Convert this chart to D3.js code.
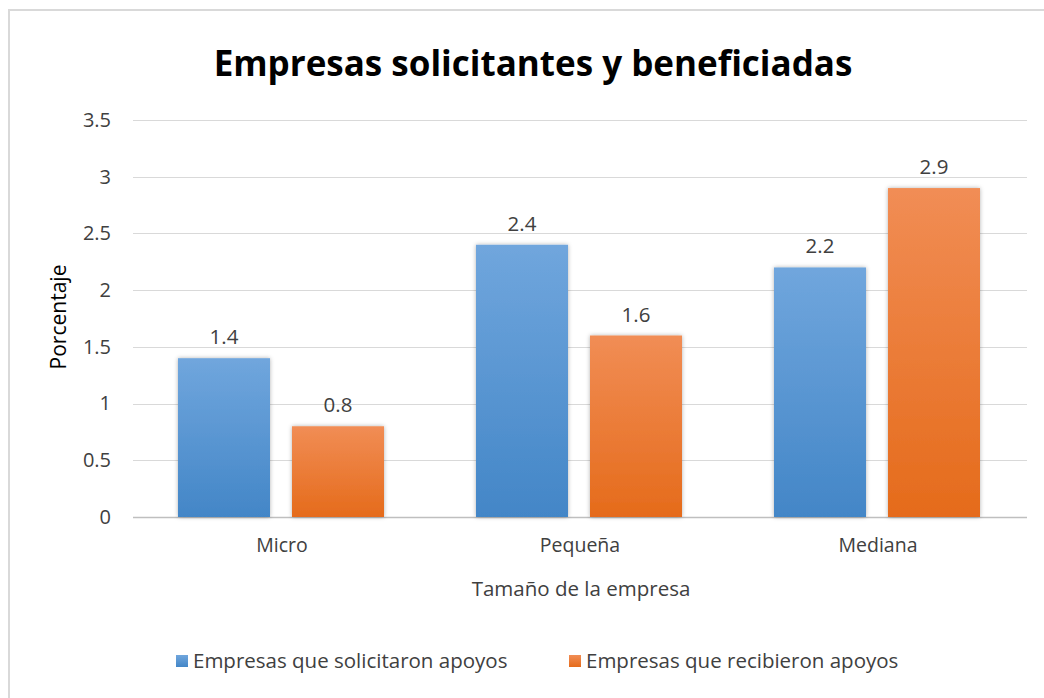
<!DOCTYPE html>
<html>
<head>
<meta charset="utf-8">
<script src="https://cdn.jsdelivr.net/npm/d3@7"></script>
<style>
  body { margin: 0; background: #fff; }
  text { font-family: "Open Sans", Lato, sans-serif; fill: #404040; }
</style>
</head>
<body>
<div class="canvas"></div>
<script>
// Data
const categories = ['Micro', 'Pequeña', 'Mediana'];
const seriesNames = ['Empresas que solicitaron apoyos', 'Empresas que recibieron apoyos'];
const solicitaron = [1.4, 2.4, 2.2];
const recibieron = [0.8, 1.6, 2.9];
const yTicks = [0, 0.5, 1, 1.5, 2, 2.5, 3, 3.5];

const dims = { width: 1044, height: 698 };
const plot = { left: 133, right: 1027, top: 120, bottom: 517 };

const svg = d3.select('.canvas')
  .append('svg')
  .attr('width', dims.width)
  .attr('height', dims.height);

const defs = svg.append('defs');

// gradients like Office fills
const grads = [
  { id: 'gBlue', top: '#70a6dd', bottom: '#4386c7' },
  { id: 'gOrange', top: '#f18d55', bottom: '#e56b1b' }
];
grads.forEach(g => {
  const lg = defs.append('linearGradient')
    .attr('id', g.id)
    .attr('x1', 0).attr('y1', 0).attr('x2', 0).attr('y2', 1);
  lg.append('stop').attr('offset', '0%').attr('stop-color', g.top);
  lg.append('stop').attr('offset', '100%').attr('stop-color', g.bottom);
});

const shadow = defs.append('filter')
  .attr('id', 'shadow')
  .attr('x', '-20%').attr('y', '-20%').attr('width', '140%').attr('height', '140%');
shadow.append('feDropShadow')
  .attr('dx', 0).attr('dy', 0)
  .attr('stdDeviation', 2)
  .attr('flood-color', '#000')
  .attr('flood-opacity', 0.3);

// chart border (cut off right and bottom)
svg.append('rect')
  .attr('x', 9).attr('y', 10)
  .attr('width', 1100).attr('height', 800)
  .attr('fill', 'none')
  .attr('stroke', '#d9d9d9')
  .attr('stroke-width', 2);

// scales
const y = d3.scaleLinear()
  .domain([0, 3.5])
  .range([plot.bottom, plot.top]);

const x0 = d3.scaleBand()
  .domain(categories)
  .range([plot.left, plot.right]);

const x1 = d3.scaleBand()
  .domain(seriesNames)
  .range([45, 251])
  .paddingInner(0.193);

const colour = d3.scaleOrdinal()
  .domain(seriesNames)
  .range(['url(#gBlue)', 'url(#gOrange)']);

// gridlines
const grid = svg.append('g');
grid.selectAll('line')
  .data(yTicks)
  .enter()
  .append('line')
    .attr('x1', plot.left)
    .attr('x2', plot.right)
    .attr('y1', d => Math.round(y(d)) + 0.5)
    .attr('y2', d => Math.round(y(d)) + 0.5)
    .attr('stroke', d => d === 0 ? '#bfbfbf' : '#d9d9d9')
    .attr('stroke-width', d => d === 0 ? 1.5 : 1);

// y axis labels
const yAxis = d3.axisLeft(y)
  .tickValues(yTicks)
  .tickSize(0)
  .tickPadding(0)
  .tickFormat(d3.format('~g'));

const yAxisGroup = svg.append('g')
  .attr('transform', `translate(111, 0)`)
  .call(yAxis);
yAxisGroup.select('.domain').remove();
yAxisGroup.selectAll('text')
  .attr('font-size', 20)
  .attr('font-family', '"Open Sans", sans-serif')
  .attr('fill', '#404040');

// x axis labels
const xAxis = d3.axisBottom(x0).tickSize(0).tickPadding(0);
const xAxisGroup = svg.append('g')
  .attr('transform', `translate(0, 538)`)
  .call(xAxis);
xAxisGroup.select('.domain').remove();
xAxisGroup.selectAll('text')
  .attr('font-size', 19.5)
  .attr('font-family', '"Open Sans", sans-serif')
  .attr('fill', '#404040');

// bars
const rows = categories.map((c, i) => ({
  category: c,
  values: [
    { name: seriesNames[0], value: solicitaron[i] },
    { name: seriesNames[1], value: recibieron[i] }
  ]
}));

const groups = svg.selectAll('g.cat')
  .data(rows)
  .enter()
  .append('g')
    .attr('class', 'cat')
    .attr('transform', d => `translate(${x0(d.category)}, 0)`);

groups.selectAll('rect')
  .data(d => d.values)
  .enter()
  .append('rect')
    .attr('x', d => x1(d.name))
    .attr('y', d => y(d.value))
    .attr('width', x1.bandwidth())
    .attr('height', d => y(0) - y(d.value))
    .attr('fill', d => colour(d.name))
    .attr('filter', 'url(#shadow)');

groups.selectAll('text.val')
  .data(d => d.values)
  .enter()
  .append('text')
    .attr('class', 'val')
    .attr('x', d => x1(d.name) + x1.bandwidth() / 2)
    .attr('y', d => y(d.value) - 14)
    .attr('text-anchor', 'middle')
    .attr('font-size', 20.5)
    .text(d => d3.format('.1f')(d.value));

// title
svg.append('text')
  .attr('x', 533)
  .attr('y', 76)
  .attr('text-anchor', 'middle')
  .attr('font-size', 35)
  .attr('font-weight', 'bold')
  .style('fill', '#000')
  .text('Empresas solicitantes y beneficiadas');

// axis titles
svg.append('text')
  .attr('transform', 'translate(66, 317) rotate(-90)')
  .attr('text-anchor', 'middle')
  .attr('font-size', 21)
  .style('fill', '#000')
  .text('Porcentaje');

svg.append('text')
  .attr('x', 581)
  .attr('y', 596)
  .attr('text-anchor', 'middle')
  .attr('font-size', 20.5)
  .text('Tamaño de la empresa');

// legend
const legendX = [176, 569];
const legend = svg.append('g');
const items = legend.selectAll('g')
  .data(seriesNames)
  .enter()
  .append('g')
    .attr('transform', (d, i) => `translate(${legendX[i]}, 655)`);

items.append('rect')
  .attr('width', 12)
  .attr('height', 12)
  .attr('fill', d => colour(d));

items.append('text')
  .attr('x', 17)
  .attr('y', 13)
  .attr('font-size', 20.5)
  .text(d => d);
</script>
</body>
</html>
